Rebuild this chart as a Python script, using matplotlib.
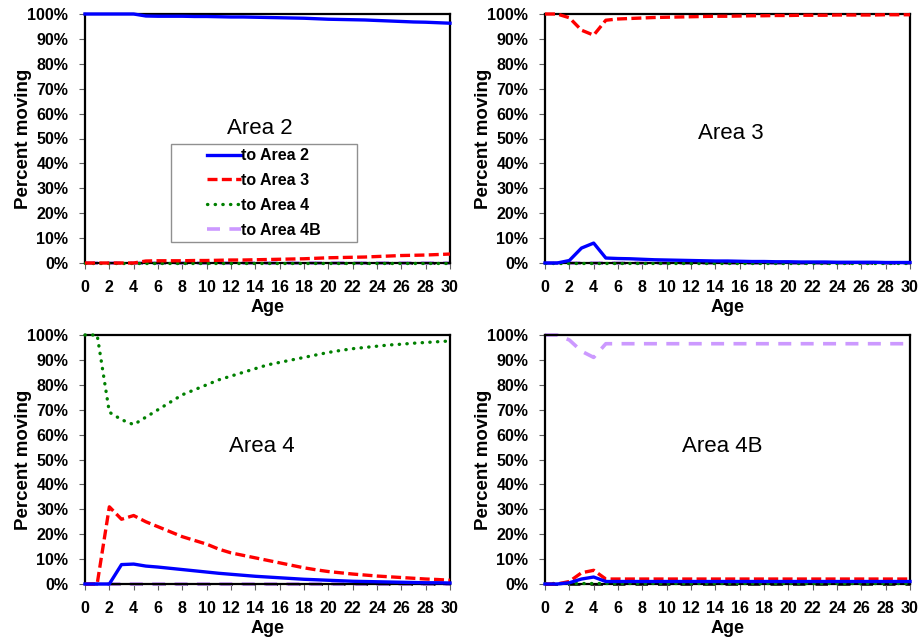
import numpy as np
import matplotlib
matplotlib.use("Agg")
import matplotlib.pyplot as plt
from matplotlib.patches import Rectangle
from matplotlib.ticker import PercentFormatter

plt.rcParams['font.family'] = ['Liberation Sans', 'DejaVu Sans']

ages = list(range(31))

# Area 2 (percent moving)
a2_to2 = [100, 100, 100, 100, 100, 99.2, 99.1, 99.1, 99.1, 99.0, 99.0, 98.9, 98.8, 98.8, 98.7,
          98.6, 98.5, 98.4, 98.3, 98.1, 97.9, 97.8, 97.7, 97.6, 97.4, 97.2, 97.0, 96.8, 96.7, 96.5, 96.3]
a2_to3 = [0, 0, 0, 0, 0, 0.8, 0.9, 0.9, 0.9, 1.0, 1.0, 1.1, 1.2, 1.2, 1.3,
          1.4, 1.5, 1.6, 1.7, 1.9, 2.1, 2.2, 2.3, 2.4, 2.6, 2.8, 3.0, 3.1, 3.2, 3.4, 3.6]
a2_to4 = [0.2] * 31
a2_to4b = [0] * 31

# Area 3
a3_to2 = [0, 0, 1.0, 6.0, 8.0, 2.0, 1.8, 1.7, 1.5, 1.3, 1.2, 1.1, 1.0, 0.9, 0.8,
          0.8, 0.7, 0.6, 0.6, 0.5, 0.5, 0.4, 0.4, 0.4, 0.3, 0.3, 0.3, 0.3, 0.2, 0.2, 0.2]
a3_to3 = [100, 100, 98.5, 93.5, 91.5, 97.5, 98.0, 98.2, 98.4, 98.6, 98.7, 98.8, 98.9, 99.0, 99.1,
          99.1, 99.2, 99.3, 99.3, 99.4, 99.4, 99.5, 99.5, 99.5, 99.6, 99.6, 99.6, 99.6, 99.7, 99.7, 99.7]
a3_to4 = [0] * 31
a3_to4b = [0] * 31

# Area 4
a4_to2 = [0, 0, 0, 7.8, 8.0, 7.2, 6.8, 6.3, 5.8, 5.3, 4.8, 4.3, 3.9, 3.5, 3.1,
          2.8, 2.5, 2.2, 1.9, 1.7, 1.5, 1.3, 1.1, 1.0, 0.9, 0.8, 0.7, 0.6, 0.5, 0.5, 0.4]
a4_to3 = [0, 0, 31.0, 26.0, 27.5, 25.0, 23.0, 21.0, 19.0, 17.5, 16.0, 14.0, 12.5, 11.5, 10.5,
          9.5, 8.5, 7.5, 6.5, 5.7, 5.0, 4.5, 4.0, 3.6, 3.2, 2.9, 2.6, 2.3, 2.0, 1.8, 1.5]
a4_to4 = [100, 100, 69.0, 66.0, 64.0, 67.0, 70.0, 73.0, 76.0, 78.0, 80.0, 82.0, 83.5, 85.0, 86.5,
          88.0, 89.0, 90.0, 91.0, 92.0, 93.0, 93.8, 94.5, 95.0, 95.5, 96.0, 96.3, 96.7, 97.0, 97.3, 97.6]
a4_to4b = [0] * 31

# Area 4B
a4b_to2 = [0, 0, 0.5, 2.0, 2.8] + [1.0] * 26
a4b_to3 = [0, 0, 1.0, 4.5, 5.5] + [2.0] * 26
a4b_to4 = [0.3] * 31
a4b_to4b = [100, 100, 98.0, 93.5, 91.0] + [96.5] * 26

panels = [
    ("Area 2", a2_to2, a2_to3, a2_to4, a2_to4b),
    ("Area 3", a3_to2, a3_to3, a3_to4, a3_to4b),
    ("Area 4", a4_to2, a4_to3, a4_to4, a4_to4b),
    ("Area 4B", a4b_to2, a4b_to3, a4b_to4, a4b_to4b),
]
series_names = ["to Area 2", "to Area 3", "to Area 4", "to Area 4B"]

fig = plt.figure(figsize=(9.22, 6.38), dpi=100)
W, H = 922, 638
boxes = [(85, 14), (545, 14), (85, 335), (545, 335)]
aw, ah = 365, 249
title_pos = [(0.48, 0.54), (0.51, 0.52), (0.485, 0.554), (0.485, 0.554)]

for i, (name, s2, s3, s4, s4b) in enumerate(panels):
    x0, y0 = boxes[i]
    ax = fig.add_axes([x0 / W, 1 - (y0 + ah) / H, aw / W, ah / H])
    ax.plot(ages, [0] * 31, color='black', lw=1.8, dashes=(5, 4), zorder=1, clip_on=False)
    ax.plot(ages, s4b, color='#cc99ff', lw=2.6, dashes=(3.6, 2.6), label=series_names[3],
            zorder=2, clip_on=False)
    ax.plot(ages, s4, color='#008000', lw=2.4, linestyle=(0, (0.1, 2.2)),
            dash_capstyle='round', label=series_names[2], zorder=3, clip_on=False)
    ax.plot(ages, s3, color='red', lw=2.4, dashes=(3, 1.3), label=series_names[1],
            zorder=4, clip_on=False)
    ax.plot(ages, s2, color='blue', lw=2.4, label=series_names[0], zorder=5, clip_on=False)

    ax.set_xlim(0, 30)
    ax.set_ylim(0, 100)
    ax.set_xticks(range(0, 31, 2))
    ax.set_yticks(range(0, 101, 10))
    ax.yaxis.set_major_formatter(PercentFormatter(decimals=0))
    ax.tick_params(direction='out', length=4, width=0.8, color='#606060', labelsize=11.5)
    ax.tick_params(axis='x', pad=8)
    ax.tick_params(axis='y', pad=8)
    for lab in ax.get_xticklabels() + ax.get_yticklabels():
        lab.set_fontweight('bold')
    for sp in ax.spines.values():
        sp.set_linewidth(1.6)
    ax.set_xlabel("Age", fontsize=13, fontweight='bold', labelpad=3)
    ax.set_ylabel("Percent moving", fontsize=13.5, fontweight='bold', labelpad=-3)
    tx, ty = title_pos[i]
    ax.text(tx, ty, name, transform=ax.transAxes, ha='center', va='center', fontsize=16)

    if i == 0:
        ax.add_patch(Rectangle((0.236, 0.084), 0.509, 0.394, transform=ax.transAxes,
                               fill=False, edgecolor='#909090', lw=1.0, zorder=6))
        handles, labels = ax.get_legend_handles_labels()
        order = [3, 2, 1, 0]
        ax.legend([handles[k] for k in order], [labels[k] for k in order],
                  loc='center', bbox_to_anchor=(0.49, 0.281), frameon=False,
                  prop={'weight': 'bold', 'size': 11.5}, handlelength=2.1,
                  handletextpad=0.0, labelspacing=0.62, borderaxespad=0)

fig.savefig("out.png", dpi=100)
